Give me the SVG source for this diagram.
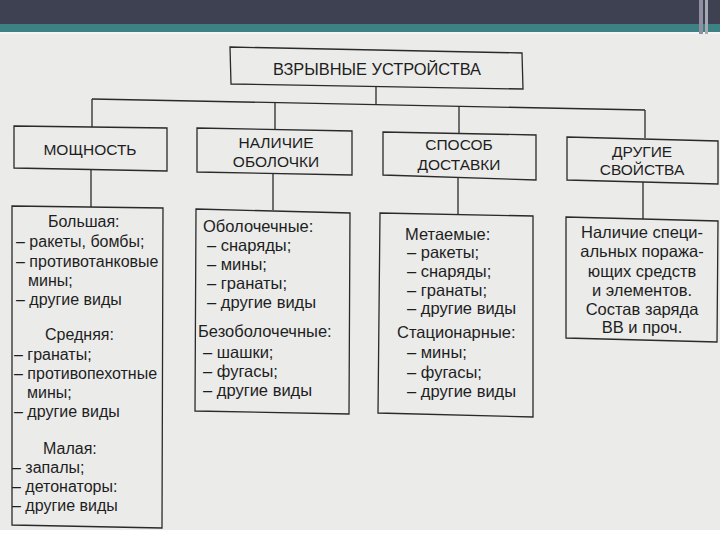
<svg xmlns="http://www.w3.org/2000/svg" width="720" height="540" viewBox="0 0 720 540">
  <style>
    .box { fill: none; stroke: #2a2a2a; stroke-width: 1.3; }
    .con { fill: none; stroke: #2a2a2a; stroke-width: 1.3; }
    text { font-family: "Liberation Sans", Arial, sans-serif; fill: #1e1e1e; }
    .cat { font-size: 15.5px; text-anchor: middle; }
    .det { font-size: 16px; }
    .det2 { font-size: 16.5px; }
    .mid { text-anchor: middle; }
  </style>
  <!-- background -->
  <rect x="0" y="0" width="720" height="540" fill="#ebebea"/>
  <rect x="0" y="530" width="720" height="10" fill="#ffffff"/>
  <!-- slide header -->
  <rect x="0" y="0" width="720" height="24" fill="#3e4152"/>
  <rect x="0" y="24" width="720" height="8" fill="#3c8285"/>
  <rect x="0" y="32" width="720" height="2" fill="#f4f4f4"/>
  <rect x="699" y="0" width="4" height="34" fill="#8e90a0"/>
  <rect x="705" y="0" width="3" height="34" fill="#a6a8b4"/>

  <g id="connectors">
    <line class="con" x1="376" y1="87" x2="376" y2="105"/>
    <line class="con" x1="92" y1="99" x2="645" y2="110"/>
    <line class="con" x1="92" y1="99" x2="92" y2="127"/>
    <line class="con" x1="275" y1="103" x2="275" y2="129"/>
    <line class="con" x1="459" y1="106" x2="459" y2="133"/>
    <line class="con" x1="645" y1="110" x2="645" y2="138"/>
    <line class="con" x1="91" y1="169" x2="91" y2="207"/>
    <line class="con" x1="273" y1="174" x2="273" y2="210"/>
    <line class="con" x1="458" y1="178" x2="458" y2="214"/>
    <line class="con" x1="643" y1="182" x2="643" y2="219"/>
  </g>

  <g id="root">
    <path class="box" d="M230,47 L522,53 L523,89 L231,84 Z"/>
    <text x="273" y="75" font-size="17" textLength="208" lengthAdjust="spacingAndGlyphs">ВЗРЫВНЫЕ УСТРОЙСТВА</text>
  </g>

  <g id="cat-power">
    <path class="box" d="M14,126 L167,128 L167,171 L14,168 Z"/>
    <text class="cat" x="90" y="155">МОЩНОСТЬ</text>
  </g>
  <g id="cat-shell">
    <path class="box" d="M197,128 L352,131 L352,175 L197,172 Z"/>
    <text class="cat" x="276" y="148">НАЛИЧИЕ</text>
    <text class="cat" x="276" y="167">ОБОЛОЧКИ</text>
  </g>
  <g id="cat-delivery">
    <path class="box" d="M383,132 L536,135 L536,180 L383,175 Z"/>
    <text class="cat" x="459" y="150">СПОСОБ</text>
    <text class="cat" x="459" y="170">ДОСТАВКИ</text>
  </g>
  <g id="cat-other">
    <path class="box" d="M567,137 L718,141 L718,184 L567,180 Z"/>
    <text class="cat" x="642" y="157">ДРУГИЕ</text>
    <text class="cat" x="642" y="175">СВОЙСТВА</text>
  </g>

  <g id="det-power">
    <path class="box" d="M12,206 L163,208 L162,528 L12,525 Z"/>
    <text class="det" x="48" y="227">Большая:</text>
    <text class="det" x="16" y="247">– ракеты, бомбы;</text>
    <text class="det" x="16" y="267">– противотанковые</text>
    <text class="det" x="28" y="286">мины;</text>
    <text class="det" x="16" y="305">– другие виды</text>
    <text class="det" x="45" y="340">Средняя:</text>
    <text class="det" x="14" y="360">– гранаты;</text>
    <text class="det" x="14" y="379">– противопехотные</text>
    <text class="det" x="27" y="398">мины;</text>
    <text class="det" x="14" y="417">– другие виды</text>
    <text class="det" x="43" y="454">Малая:</text>
    <text class="det" x="12" y="473">– запалы;</text>
    <text class="det" x="12" y="492">– детонаторы:</text>
    <text class="det" x="12" y="511">– другие виды</text>
  </g>

  <g id="det-shell">
    <path class="box" d="M196,209 L350,213 L349,414 L195,411 Z"/>
    <text class="det2" x="203" y="232">Оболочечные:</text>
    <text class="det2" x="207" y="251">– снаряды;</text>
    <text class="det2" x="207" y="270">– мины;</text>
    <text class="det2" x="207" y="289">– гранаты;</text>
    <text class="det2" x="207" y="308">– другие виды</text>
    <text class="det2" x="198" y="337">Безоболочечные:</text>
    <text class="det2" x="203" y="358">– шашки;</text>
    <text class="det2" x="203" y="377">– фугасы;</text>
    <text class="det2" x="203" y="396">– другие виды</text>
  </g>

  <g id="det-delivery">
    <path class="box" d="M380,213 L533,216 L533,417 L378,413 Z"/>
    <text class="det2" x="405" y="240">Метаемые:</text>
    <text class="det2" x="407" y="258">– ракеты;</text>
    <text class="det2" x="407" y="277">– снаряды;</text>
    <text class="det2" x="407" y="296">– гранаты;</text>
    <text class="det2" x="407" y="314">– другие виды</text>
    <text class="det2" x="397" y="338">Стационарные:</text>
    <text class="det2" x="407" y="358">– мины;</text>
    <text class="det2" x="407" y="378">– фугасы;</text>
    <text class="det2" x="407" y="397">– другие виды</text>
  </g>

  <g id="det-other">
    <path class="box" d="M566,217 L718,221 L717,342 L566,338 Z"/>
    <text class="det2 mid" x="642" y="238">Наличие специ-</text>
    <text class="det2 mid" x="642" y="257">альных поража-</text>
    <text class="det2 mid" x="642" y="277">ющих средств</text>
    <text class="det2 mid" x="642" y="296">и элементов.</text>
    <text class="det2 mid" x="642" y="315">Состав заряда</text>
    <text class="det2 mid" x="642" y="333">ВВ и проч.</text>
  </g>
</svg>
